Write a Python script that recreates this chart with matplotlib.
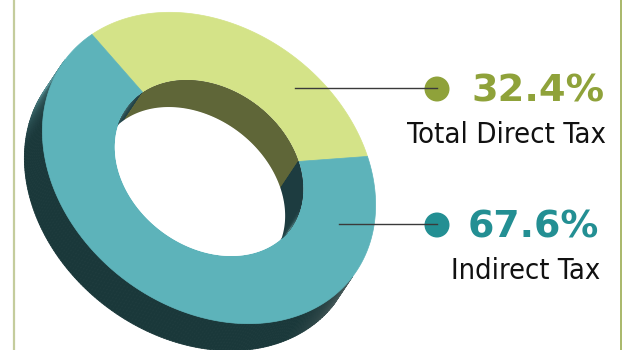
import numpy as np
import matplotlib.pyplot as plt
from matplotlib import font_manager as fm
from matplotlib.patches import Polygon, Circle
from matplotlib.colors import to_rgb

# tax shares (percent)
labels = ['Total Direct Tax', 'Indirect Tax']
shares = [32.4, 67.6]
top_colors = ['#d4e388', '#5db3ba']
wall_colors = ['#5f6638', '#1d3c40']
accent = ['#8fa23a', '#238f93']

# ring geometry (pixel units, y grows downwards)
cx, cy = 209, 168
A, B = 180, 140          # outer semi-axes of the tilted ring
hole = 0.565             # inner / outer radius
phi = np.radians(37)
u = np.array([np.cos(phi), np.sin(phi)])
v = np.array([-np.sin(phi), np.cos(phi)])
depth = np.array([-18, 27])
start = -165.0


def ring_pt(theta, r):
    t = np.radians(theta)
    return (np.array([cx, cy])[:, None]
            + r * (np.cos(t) * A * u[:, None] + np.sin(t) * B * v[:, None])).T


def mix(c1, c2, w):
    a, b = np.array(to_rgb(c1)), np.array(to_rgb(c2))
    return tuple(a + (b - a) * w)


# narrow face for the captions if one is installed
have_cond = any(f.name == 'DejaVu Sans' and str(f.stretch) in ('condensed', '300')
                for f in fm.fontManager.ttflist)
if have_cond:
    cap_font = dict(family=['DejaVu Sans'], fontstretch='condensed')
else:
    cap_font = dict(family=['Roboto', 'DejaVu Sans'], fontweight='light')

fig = plt.figure(figsize=(6.26, 3.5), dpi=100)
ax = fig.add_axes([0, 0, 1, 1])
ax.set_xlim(0, 626)
ax.set_ylim(350, 0)
ax.axis('off')

# frame lines
ax.plot([14, 14], [0, 350], color='#c4cc9c', lw=1.6)
ax.plot([620.5, 620.5], [0, 350], color='#9aac50', lw=1.2)

# outer side wall
dark = '#1a383a'
th = np.linspace(0, 180, 181)
for t0, t1 in zip(th[:-1], th[1:]):
    p = ring_pt(np.array([t0, t1]), 1.0)
    quad = np.vstack([p, p[::-1] + depth])
    tm = np.radians((t0 + t1) / 2)
    f = A * np.sin(tm) / np.hypot(B * np.cos(tm), A * np.sin(tm))
    w = np.clip(1 - f / 0.55, 0, 1) ** 1.3
    light = '#5a9398' if tm > np.pi / 2 else '#4f6060'
    col = mix(dark, light, w)
    ax.add_patch(Polygon(quad, closed=True, fc=col, ec=col, lw=0.6))

# top face segments
bounds = start + np.concatenate([[0], np.cumsum(shares)]) * 3.6
for i in range(len(shares)):
    t = np.linspace(bounds[i], bounds[i + 1], 200)
    poly = np.vstack([ring_pt(t, 1.0), ring_pt(t[::-1], hole)])
    ax.add_patch(Polygon(poly, closed=True, fc=top_colors[i], ec=top_colors[i], lw=0.5))

# hole: inner wall seen through the top opening
inner = Polygon(ring_pt(np.linspace(0, 360, 361), hole), closed=True,
                fc='white', ec='none')
ax.add_patch(inner)
th = np.linspace(-180, 0, 361)
for t0, t1 in zip(th[:-1], th[1:]):
    tm = (t0 + t1) / 2
    seg = 0 if bounds[0] <= tm <= bounds[1] else 1
    p = ring_pt(np.array([t0, t1]), hole)
    quad = np.vstack([p, p[::-1] + depth])
    r = np.radians(tm)
    f = -A * np.sin(r) / np.hypot(B * np.cos(r), A * np.sin(r))
    w = np.clip(1 - f / 0.4, 0, 1) ** 1.5
    col = mix(wall_colors[seg], '#5f8f92' if seg else '#7d8458', w * 0.8)
    q = Polygon(quad, closed=True, fc=col, ec=col, lw=0.6)
    ax.add_patch(q)
    q.set_clip_path(inner)
bottom = Polygon(ring_pt(np.linspace(0, 360, 361), hole) + depth, closed=True,
                 fc='white', ec='none')
ax.add_patch(bottom)
bottom.set_clip_path(inner)

# callouts
leader_x = [295, 339]
label_y = [88, 224]
right_x = [605, 599]
value_w = [133, 131]
label_w = [199, 149]
renderer = fig.canvas.get_renderer()


def fit(txt, width):
    # shrink or grow the font so the text spans the given pixel width
    w = txt.get_window_extent(renderer).width
    txt.set_fontsize(txt.get_fontsize() * width / w)


for i in range(len(shares)):
    ax.plot([leader_x[i], 437], [label_y[i], label_y[i]], color='#3a3a3a', lw=1)
    ax.add_patch(Circle((437, label_y[i] + 1), 12.5, fc=accent[i], ec='none'))
    t = ax.text(right_x[i], label_y[i] + 14, f'{shares[i]:.1f}%', ha='right',
                va='baseline', fontsize=26.5, fontweight='bold', color=accent[i],
                family=['DejaVu Sans'])
    fit(t, value_w[i])
    t = ax.text(right_x[i] + 1, label_y[i] + 55, labels[i], ha='right',
                va='baseline', fontsize=22, color='#111111', **cap_font)
    fit(t, label_w[i])

fig.savefig('out.png', dpi=100)
